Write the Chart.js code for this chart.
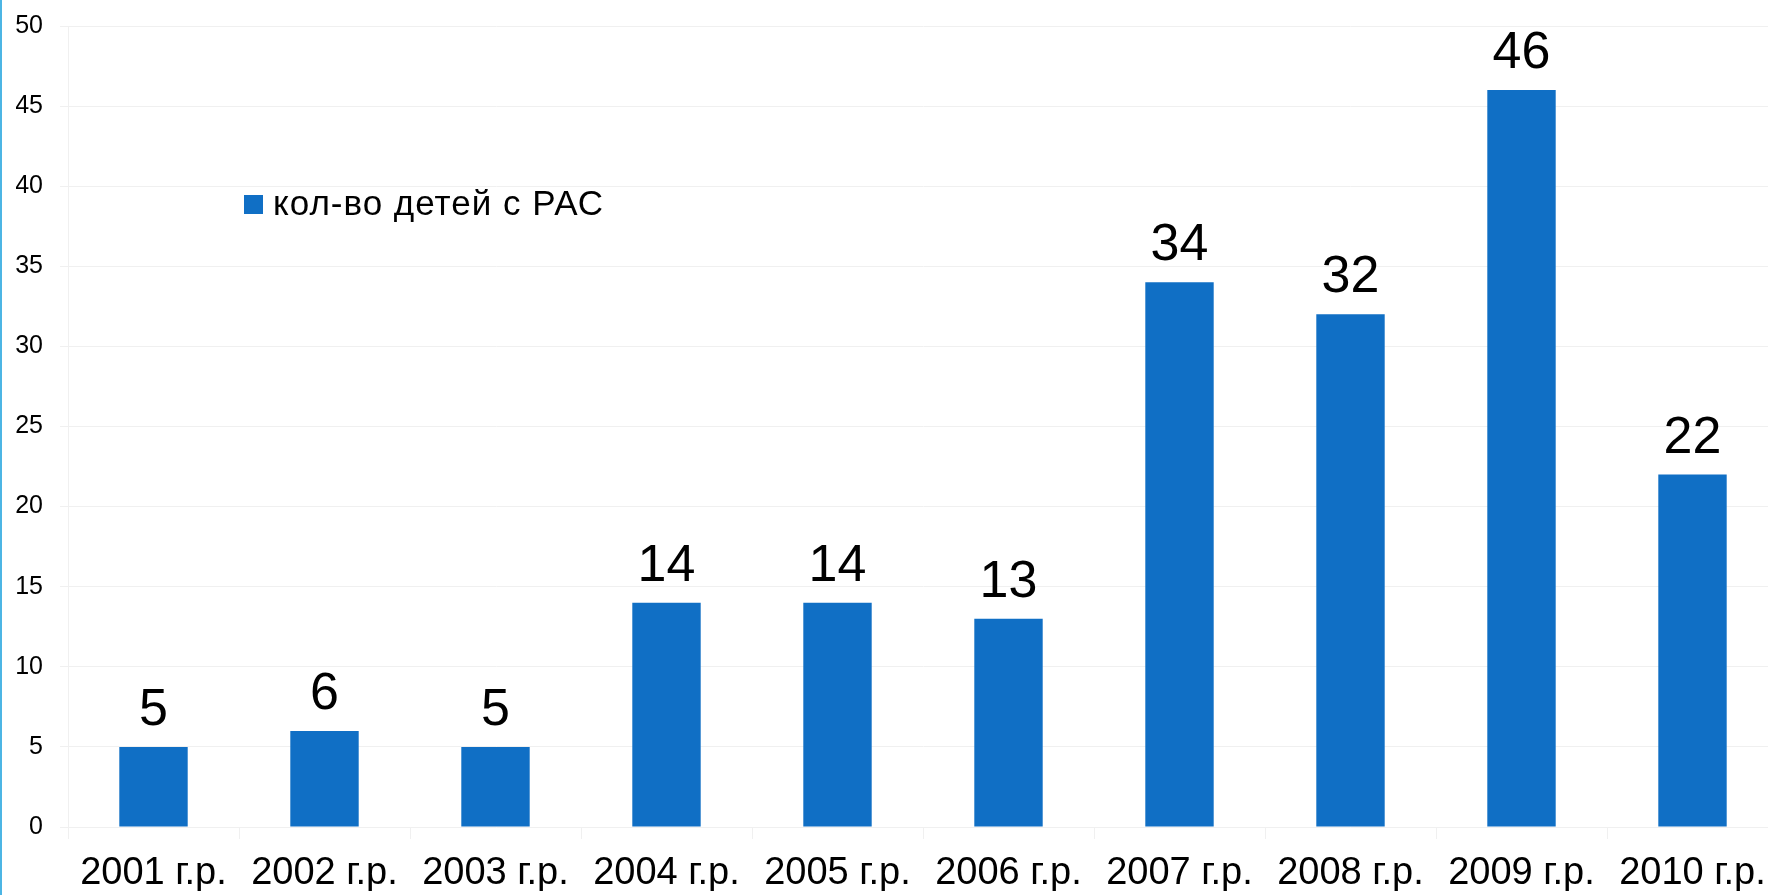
<!DOCTYPE html>
<html>
<head>
<meta charset="utf-8">
<script src="https://cdn.jsdelivr.net/npm/chart.js@4/dist/chart.umd.min.js"></script>
<style>
    html, body { margin: 0; padding: 0; background: #fff; overflow: hidden; }
    #wrap { position: relative; width: 1780px; height: 895px; }
    #edge { position: absolute; left: 0; top: 0; width: 2px; height: 895px; background: #4cb5e4; z-index: 2; }
</style>
</head>
<body>
<div id="wrap">
    <div id="edge"></div>
    <canvas id="chart" width="1780" height="895"></canvas>
</div>
<script>
// --- dados do gráfico ---
const categories = ['2001 г.р.', '2002 г.р.', '2003 г.р.', '2004 г.р.', '2005 г.р.',
                    '2006 г.р.', '2007 г.р.', '2008 г.р.', '2009 г.р.', '2010 г.р.'];
const childrenCount = [5, 6, 5, 14, 14, 13, 34, 32, 46, 22];
const seriesName = 'кол-во детей с РАС';
const yTicks = [0, 5, 10, 15, 20, 25, 30, 35, 40, 45, 50];

const FONT = '"Liberation Sans", Arial, sans-serif';
const BAR_COLOR = '#106fc5';
const GRID_COLOR = '#f0f0f0';

// rótulos acima das barras
const valueLabels = {
    id: 'valueLabels',
    afterDatasetsDraw(chart) {
        const ctx = chart.ctx;
        const meta = chart.getDatasetMeta(0);
        const data = chart.data.datasets[0].data;
        ctx.save();
        ctx.font = '52px ' + FONT;
        ctx.fillStyle = '#000';
        ctx.textAlign = 'center';
        ctx.textBaseline = 'alphabetic';
        meta.data.forEach((bar, i) => {
            ctx.fillText(String(data[i]), bar.x, bar.y - 22);
        });
        ctx.restore();
    }
};

// legenda flutuante dentro da área do gráfico
const floatingLegend = {
    id: 'floatingLegend',
    afterDraw(chart) {
        const ctx = chart.ctx;
        const area = chart.chartArea;
        const ds = chart.data.datasets[0];
        const x = area.left + 176;
        const y = area.top + 169;
        ctx.save();
        ctx.fillStyle = ds.backgroundColor;
        ctx.fillRect(x, y, 19, 19);
        ctx.font = '35px ' + FONT;
        ctx.letterSpacing = '1px';
        ctx.fillStyle = '#000';
        ctx.textAlign = 'left';
        ctx.textBaseline = 'middle';
        ctx.fillText(ds.label, x + 29, y + 10);
        ctx.restore();
    }
};

new Chart(document.getElementById('chart'), {
    type: 'bar',
    data: {
        labels: categories,
        datasets: [{
            label: seriesName,
            data: childrenCount,
            backgroundColor: BAR_COLOR,
            borderWidth: 0,
            barPercentage: 0.4,
            categoryPercentage: 1.0
        }]
    },
    options: {
        responsive: false,
        animation: false,
        layout: { padding: { left: 16, top: 26, right: 2, bottom: 4 } },
        plugins: {
            legend: { display: false },
            tooltip: { enabled: false }
        },
        scales: {
            x: {
                offset: true,
                afterFit: (axis) => {
                    axis.height = 64;
                    axis.paddingLeft = 0;
                    axis.paddingRight = 0;
                },
                grid: { display: true, drawOnChartArea: false, drawTicks: true, tickLength: 12, color: GRID_COLOR },
                border: { display: false },
                ticks: { color: '#000', font: { family: FONT, size: 38 }, padding: 12, maxRotation: 0, autoSkip: false }
            },
            y: {
                min: 0,
                max: 50,
                afterBuildTicks: (axis) => { axis.ticks = yTicks.map(v => ({ value: v })); },
                afterFit: (axis) => {
                    axis.width = 52;
                    axis.paddingTop = 0;
                    axis.paddingBottom = 0;
                },
                grid: { color: GRID_COLOR, tickLength: 8 },
                border: { display: true, color: GRID_COLOR },
                ticks: { color: '#000', font: { family: FONT, size: 25 }, padding: 17 }
            }
        }
    },
    plugins: [valueLabels, floatingLegend]
});
</script>
</body>
</html>
